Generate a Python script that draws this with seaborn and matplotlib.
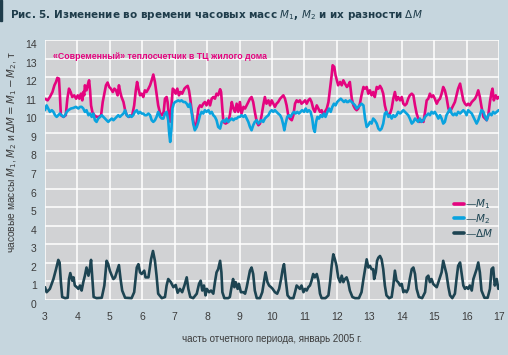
import matplotlib
matplotlib.use("Agg")
import matplotlib.pyplot as plt
import seaborn as sns
import pandas as pd
from matplotlib.patches import Rectangle
from matplotlib.transforms import ScaledTranslation

# часовые массы: день января 2005 г. -> т
m1_day = [3.00, 3.08, 3.15, 3.23, 3.29, 3.34, 3.38, 3.43, 3.46, 3.49, 3.57, 3.64, 3.69, 3.74, 3.79, 3.84, 3.90, 3.96,
          4.01, 4.06, 4.11, 4.15, 4.18, 4.21, 4.23, 4.28, 4.32, 4.36, 4.39, 4.42, 4.46, 4.52, 4.59, 4.66, 4.73, 4.78,
          4.83, 4.88, 4.93, 4.98, 5.03, 5.09, 5.14, 5.19, 5.24, 5.28, 5.32, 5.36, 5.42, 5.47, 5.52, 5.59, 5.69, 5.75,
          5.80, 5.84, 5.88, 5.93, 5.98, 6.03, 6.08, 6.13, 6.19, 6.24, 6.29, 6.34, 6.39, 6.44, 6.49, 6.55, 6.60, 6.66,
          6.70, 6.75, 6.78, 6.81, 6.86, 6.90, 6.94, 6.99, 7.03, 7.08, 7.13, 7.18, 7.23, 7.30, 7.35, 7.40, 7.44, 7.48,
          7.52, 7.57, 7.62,
          7.68, 7.73, 7.78, 7.83, 7.88, 7.93, 7.98, 8.04, 8.09, 8.14, 8.19, 8.24, 8.29, 8.34, 8.40, 8.43, 8.47, 8.50,
          8.57, 8.65, 8.70, 8.76, 8.81, 8.86, 8.91, 8.96, 9.01, 9.06, 9.12, 9.17, 9.22, 9.27, 9.32, 9.37, 9.42, 9.47,
          9.53, 9.58, 9.63, 9.68, 9.73, 9.78, 9.83, 9.89, 9.94, 9.99, 10.04, 10.09, 10.14, 10.19, 10.25, 10.30, 10.35,
          10.40, 10.45, 10.50, 10.55, 10.61, 10.66, 10.71, 10.76, 10.81, 10.86, 10.91, 10.97, 11.02, 11.07, 11.12,
          11.17, 11.22, 11.27, 11.32, 11.38, 11.43, 11.48, 11.53, 11.58, 11.63, 11.69, 11.74, 11.79, 11.84, 11.87,
          11.92, 11.96, 12.00, 12.04, 12.10, 12.15, 12.20, 12.25, 12.31,
          12.35, 12.40, 12.46, 12.51, 12.56, 12.61, 12.66, 12.71, 12.76, 12.82, 12.87, 12.92, 12.97, 13.02, 13.07,
          13.12, 13.17, 13.23, 13.28, 13.33, 13.38, 13.43, 13.48, 13.53, 13.59, 13.64, 13.69, 13.74, 13.79, 13.84,
          13.89, 13.95, 14.00, 14.05, 14.10, 14.15, 14.20, 14.25, 14.31, 14.36, 14.41, 14.46, 14.51, 14.56, 14.61,
          14.67, 14.72, 14.77, 14.82, 14.87, 14.92, 14.97, 15.02, 15.08, 15.13, 15.18, 15.23, 15.28, 15.33, 15.38,
          15.44, 15.49, 15.54, 15.59, 15.64, 15.69, 15.74, 15.80, 15.85, 15.90, 15.95, 16.00, 16.05, 16.10, 16.16,
          16.21, 16.26, 16.31, 16.36, 16.41, 16.46, 16.52, 16.57, 16.62, 16.67, 16.72, 16.77, 16.80, 16.84, 16.90,
          16.95, 16.99]
m1_val = [10.84, 10.75, 10.93, 11.20, 11.56, 11.74, 11.96, 11.92, 11.02, 9.95, 9.86, 9.95, 10.84, 11.38, 11.20, 10.93,
          11.02, 10.84, 11.02, 10.84, 11.11, 10.75, 11.20, 11.02, 11.56, 11.29, 11.60, 11.83, 11.29, 10.48, 10.13, 9.95,
          9.86, 9.86, 9.95, 10.66, 11.11, 11.56, 11.71, 11.47, 11.38, 11.20, 11.38, 11.29, 11.02, 11.56, 11.20, 10.93,
          10.66, 10.22, 9.95, 9.86, 9.95, 10.48, 11.29, 11.74, 11.38, 11.02, 11.11, 10.93, 11.29, 11.20, 11.38, 11.56,
          11.83, 12.14, 11.74, 11.11, 10.48, 10.04, 9.95, 10.13, 10.84, 10.93, 10.66, 10.13, 9.60, 10.50, 11.38, 11.29,
          11.11, 11.38, 11.02, 11.20, 11.11, 11.38, 11.47, 11.53, 11.29, 10.84, 10.22, 9.68, 9.23,
          9.59, 10.31, 10.48, 10.40, 10.57, 10.66, 10.48, 10.75, 10.48, 10.84, 10.93, 10.84, 11.11, 11.02, 11.35, 11.20,
          10.31, 9.59, 9.50, 9.59, 9.95, 10.66, 10.31, 10.13, 10.57, 10.13, 10.66, 10.04, 10.40, 10.31, 10.48, 10.66,
          10.84, 10.93, 10.66, 10.13, 9.59, 9.41, 9.50, 9.95, 10.48, 10.93, 10.57, 10.75, 10.48, 10.75, 10.57, 10.40,
          10.57, 10.66, 10.84, 10.93, 11.02, 10.84, 10.48, 9.95, 9.77, 9.68, 9.95, 10.57, 10.75, 10.66, 10.75, 10.57,
          10.66, 10.75, 10.57, 10.75, 10.84, 10.66, 10.31, 10.13, 10.48, 10.31, 10.13, 10.22, 9.95, 10.13, 10.31,
          10.66, 11.38, 12.10, 12.64, 12.55, 12.10, 11.83, 11.56, 11.74, 11.56, 11.83, 11.65, 11.47,
          11.56, 11.74, 10.84, 10.48, 10.31, 10.22, 10.31, 10.57, 11.02, 11.47, 11.38, 11.47, 11.11, 11.29, 11.02,
          11.20, 10.93, 11.47, 11.38, 11.53, 11.38, 11.11, 10.48, 10.13, 9.95, 10.04, 10.31, 10.84, 11.20, 10.75,
          10.93, 10.75, 10.93, 10.57, 10.48, 10.57, 10.84, 11.02, 11.11, 11.02, 10.48, 10.04, 9.77, 9.59, 9.68,
          9.59, 10.13, 10.75, 10.84, 11.11, 10.93, 11.02, 10.84, 10.57, 10.75, 10.84, 11.11, 11.47, 11.29, 10.93,
          10.31, 10.13, 10.31, 10.48, 10.66, 11.02, 11.38, 11.65, 11.20, 10.75, 10.57, 10.48, 10.57, 10.48, 10.66,
          10.75, 10.84, 11.02, 11.29, 10.93, 10.40, 9.86, 9.77, 9.68, 9.95, 10.66, 11.20, 11.38, 10.75, 11.02,
          10.84, 10.93]

m2_day = [3.00, 3.05, 3.10, 3.15, 3.21, 3.26, 3.31, 3.36, 3.41, 3.46, 3.51, 3.57, 3.62, 3.67, 3.72, 3.80, 3.87, 3.95,
          4.03, 4.08, 4.13, 4.18, 4.23, 4.28, 4.34, 4.39, 4.44, 4.49, 4.54, 4.59, 4.64, 4.70, 4.75, 4.80, 4.85, 4.90,
          4.95, 5.00, 5.06, 5.11, 5.16, 5.21, 5.26, 5.31, 5.36, 5.42, 5.47, 5.52, 5.57, 5.62, 5.67, 5.72, 5.77, 5.83,
          5.88, 5.93, 5.98, 6.03, 6.08, 6.13, 6.19, 6.24, 6.29, 6.34, 6.39, 6.44, 6.49, 6.55, 6.60, 6.65, 6.70, 6.75,
          6.80, 6.83, 6.86, 6.90, 6.93, 6.97, 7.01, 7.06, 7.11, 7.16, 7.21, 7.27, 7.32, 7.37, 7.42, 7.47, 7.52, 7.57,
          7.62,
          7.68, 7.73, 7.78, 7.83, 7.88, 7.93, 7.98, 8.04, 8.09, 8.14, 8.19, 8.24, 8.29, 8.34, 8.40, 8.45, 8.50, 8.55,
          8.60, 8.65, 8.70, 8.76, 8.81, 8.86, 8.91, 8.96, 9.01, 9.06, 9.12, 9.17, 9.22, 9.27, 9.32, 9.37, 9.42, 9.47,
          9.53, 9.58, 9.63, 9.68, 9.73, 9.78, 9.83, 9.89, 9.94, 9.99, 10.04, 10.09, 10.14, 10.19, 10.25, 10.30, 10.35,
          10.38, 10.42, 10.47, 10.52, 10.57, 10.63, 10.68, 10.73, 10.78, 10.83, 10.88, 10.93, 10.99, 11.04, 11.09,
          11.14, 11.19, 11.24, 11.28, 11.32, 11.36, 11.40, 11.45, 11.50, 11.55, 11.60, 11.65, 11.71, 11.76, 11.81,
          11.86, 11.91, 11.96, 12.01, 12.06, 12.12, 12.17, 12.22, 12.27, 12.31,
          12.35, 12.40, 12.46, 12.51, 12.56, 12.61, 12.66, 12.71, 12.76, 12.82, 12.87, 12.92, 12.97, 13.02, 13.07,
          13.12, 13.17, 13.23, 13.28, 13.33, 13.38, 13.43, 13.48, 13.53, 13.59, 13.64, 13.69, 13.74, 13.79, 13.84,
          13.89, 13.95, 14.00, 14.05, 14.10, 14.15, 14.20, 14.25, 14.31, 14.36, 14.41, 14.46, 14.51, 14.56, 14.61,
          14.67, 14.72, 14.77, 14.82, 14.87, 14.92, 14.97, 15.02, 15.08, 15.13, 15.18, 15.23, 15.28, 15.33, 15.38,
          15.44, 15.49, 15.54, 15.59, 15.64, 15.69, 15.74, 15.80, 15.85, 15.90, 15.95, 16.00, 16.05, 16.10, 16.16,
          16.21, 16.26, 16.31, 16.36, 16.41, 16.46, 16.52, 16.57, 16.62, 16.67, 16.72, 16.77, 16.82, 16.87, 16.93,
          16.99]
m2_val = [10.22, 10.48, 10.31, 10.13, 10.22, 10.13, 9.95, 9.86, 9.95, 10.04, 9.95, 9.86, 9.95, 10.13, 10.22, 10.31,
          10.34, 10.40, 10.31, 10.40, 10.40, 10.31, 10.13, 10.22, 9.95, 10.04, 9.86, 10.04, 9.68, 9.59, 9.77, 9.86,
          9.95, 9.86, 9.77, 9.68, 9.59, 9.68, 9.77, 9.68, 9.77, 9.86, 9.95, 9.86, 9.95, 10.04, 10.22, 9.95, 9.86, 9.95,
          9.86, 9.95, 10.13, 10.22, 10.04, 10.13, 10.04, 10.04, 9.95, 9.95, 10.04, 9.95, 9.68, 9.59, 9.68, 9.86, 10.13,
          9.86, 9.77, 9.77, 10.04, 10.13, 9.68, 8.96, 8.51, 9.23, 10.31, 10.57, 10.66, 10.70, 10.75, 10.70, 10.75,
          10.66, 10.66, 10.57, 10.40, 10.57, 10.13, 9.50, 9.14,
          9.32, 9.59, 9.95, 10.13, 10.04, 10.22, 10.13, 10.22, 10.04, 10.13, 9.95, 9.86, 9.68, 9.32, 9.23, 9.59, 9.68,
          9.59, 9.77, 9.59, 9.68, 9.77, 9.68, 9.77, 9.77, 9.86, 9.86, 9.95, 9.86, 9.95, 9.77, 9.59, 9.32, 9.14, 9.41,
          9.59, 9.68, 9.50, 9.59, 9.68, 9.59, 9.77, 9.86, 9.95, 10.13, 10.22, 10.13, 10.22, 10.13, 10.04, 9.95, 9.77,
          9.41, 9.14, 9.50, 9.86, 9.95, 9.86, 10.04, 10.13, 10.04, 10.13, 10.04, 10.13, 10.22, 10.13, 10.31, 10.13,
          10.22, 10.13, 9.77, 9.23, 9.05, 9.59, 9.86, 9.77, 9.95, 9.86, 10.04, 9.86, 10.13, 10.31, 10.13, 10.40,
          10.57, 10.48, 10.66, 10.75, 10.84, 10.75, 10.66, 10.75, 10.66,
          10.66, 10.75, 10.66, 10.57, 10.48, 10.31, 10.40, 10.48, 10.57, 10.48, 9.77, 9.32, 9.41, 9.59, 9.50, 9.77,
          9.68, 9.50, 9.23, 9.14, 9.23, 9.50, 10.04, 10.13, 9.86, 9.95, 9.77, 9.95, 9.86, 9.95, 10.13, 10.04, 10.13,
          10.22, 10.13, 10.04, 9.95, 9.77, 9.50, 9.59, 9.77, 9.68, 9.59, 9.77, 9.59, 9.68, 9.86, 9.95, 10.04, 9.95,
          10.13, 10.04, 10.13, 9.95, 9.77, 9.95, 9.77, 9.50, 9.59, 9.95, 10.13, 10.31, 10.04, 9.95, 10.04, 9.95,
          10.13, 10.04, 10.13, 10.22, 10.13, 9.95, 10.22, 10.13, 10.04, 9.86, 9.68, 9.50, 9.68, 9.95, 10.22, 10.13,
          9.86, 9.68, 9.95, 10.04, 9.95, 10.13, 10.04, 10.13, 10.22]

dm_day = [3.00, 3.05, 3.15, 3.26, 3.34, 3.41, 3.45, 3.49, 3.53, 3.62, 3.70, 3.74, 3.78, 3.84, 3.88, 3.92, 3.98, 4.03,
          4.08, 4.13, 4.18, 4.23, 4.28, 4.34, 4.38, 4.42, 4.46, 4.50, 4.59, 4.75, 4.83, 4.90, 4.95, 5.00, 5.06, 5.11,
          5.16, 5.21, 5.28, 5.33, 5.38, 5.47, 5.67, 5.75, 5.83, 5.88, 5.93, 5.98, 6.06, 6.10, 6.19, 6.27, 6.33, 6.39,
          6.44, 6.49, 6.60, 6.70, 6.75, 6.80, 6.88, 6.96, 7.03, 7.09, 7.16, 7.23, 7.30, 7.37, 7.42, 7.48, 7.57,
          7.68, 7.75, 7.80, 7.85, 7.90, 7.95, 7.99, 8.06, 8.12, 8.19, 8.24, 8.29, 8.34, 8.40, 8.44, 8.47, 8.53, 8.65,
          8.70, 8.76, 8.80, 8.84, 8.88, 8.94, 8.98, 9.04, 9.12, 9.17, 9.22, 9.27, 9.32, 9.37, 9.42, 9.47, 9.53, 9.63,
          9.70, 9.75, 9.80, 9.86, 9.91, 9.97, 10.02, 10.09, 10.16, 10.22, 10.28, 10.33, 10.37, 10.42, 10.48, 10.55,
          10.66, 10.71, 10.76, 10.81, 10.86, 10.91, 10.97, 11.02, 11.07, 11.12, 11.17, 11.22, 11.27, 11.32, 11.38,
          11.43, 11.48, 11.53, 11.65, 11.74, 11.79, 11.84, 11.89, 11.94, 11.99, 12.04, 12.10, 12.15, 12.20,
          12.25, 12.30, 12.35, 12.40, 12.48, 12.56, 12.68, 12.76, 12.82, 12.87, 12.92, 12.97, 13.02, 13.07, 13.12,
          13.15, 13.20, 13.24, 13.28, 13.33, 13.38, 13.43, 13.48, 13.53, 13.61, 13.69, 13.74, 13.79, 13.84, 13.89,
          13.95, 14.00, 14.05, 14.10, 14.15, 14.20, 14.25, 14.31, 14.36, 14.41, 14.46, 14.53, 14.63, 14.72, 14.77,
          14.82, 14.87, 14.92, 14.97, 15.02, 15.08, 15.13, 15.18, 15.23, 15.28, 15.33, 15.38, 15.44, 15.49, 15.56,
          15.64, 15.69, 15.74, 15.80, 15.85, 15.90, 15.95, 16.00, 16.05, 16.10, 16.16, 16.21, 16.26, 16.31, 16.36,
          16.41, 16.46, 16.55, 16.65, 16.72, 16.77, 16.82, 16.87, 16.93, 16.98]
dm_val = [0.69, 0.42, 0.60, 1.13, 1.66, 2.16, 2.02, 0.96, 0.16, 0.10, 0.12, 1.13, 1.45, 1.04, 1.22, 0.78, 0.69, 0.60,
          0.78, 0.51, 0.96, 1.31, 1.75, 1.31, 1.66, 2.16, 1.13, 0.16, 0.10, 0.12, 0.78, 2.11, 1.93, 1.58, 1.31, 1.13,
          1.22, 1.49, 1.88, 1.13, 0.51, 0.12, 0.10, 0.42, 1.75, 1.93, 1.49, 1.40, 1.58, 1.22, 1.22, 2.19, 2.64, 2.11,
          1.31, 0.34, 0.10, 0.16, 0.78, 1.13, 0.96, 0.69, 0.81, 0.39, 0.60, 0.42, 0.78, 1.22, 0.60, 0.16, 0.10,
          0.34, 0.87, 1.04, 0.51, 0.78, 0.25, 0.60, 0.42, 0.51, 0.34, 0.96, 1.49, 1.66, 2.11, 1.49, 0.42, 0.10, 0.10,
          0.16, 0.78, 1.13, 0.69, 0.96, 0.60, 0.87, 0.42, 0.42, 0.34, 0.69, 1.13, 1.58, 1.75, 1.40, 0.51, 0.10, 0.10,
          0.42, 0.96, 1.49, 0.96, 0.78, 0.69, 0.60, 0.42, 0.34, 0.60, 1.13, 1.66, 1.93, 1.13, 0.25, 0.10,
          0.10, 0.42, 0.78, 0.69, 0.60, 0.78, 0.42, 0.60, 0.51, 0.69, 0.78, 1.04, 1.40, 1.22, 1.40,
          1.04, 0.34, 0.10, 0.10, 0.25, 0.96, 1.84, 2.46, 2.19, 1.84, 1.22, 0.96, 1.31, 0.96,
          1.13, 1.22, 0.96, 0.51, 0.16, 0.10, 0.10, 0.42, 1.13, 1.66, 2.19, 1.75, 1.84, 1.66, 1.66,
          1.13, 1.49, 2.11, 2.28, 2.37, 2.19, 1.66, 0.78, 0.25, 0.10, 0.16, 0.78, 1.58, 1.04, 0.96,
          0.78, 0.87, 0.42, 0.51, 0.42, 0.60, 1.13, 1.66, 1.75, 1.40, 0.60, 0.16, 0.10, 0.42, 1.22,
          1.31, 0.96, 1.13, 0.87, 0.78, 0.69, 0.96, 1.22, 1.49, 2.11, 1.75, 1.40, 0.69, 0.25, 0.10,
          0.34, 1.13, 1.84, 2.02, 1.40, 0.78, 0.60, 0.69, 0.60, 0.78, 0.51, 1.13, 1.40, 1.66, 2.02,
          1.49, 0.51, 0.12, 0.12, 0.60, 1.66, 1.75, 0.78, 1.13, 0.60]

x_ticks = list(range(3, 18))
y_ticks = list(range(0, 15))

df = pd.concat([
    pd.DataFrame({"day": m1_day, "mass": m1_val, "series": "M1"}),
    pd.DataFrame({"day": m2_day, "mass": m2_val, "series": "M2"}),
    pd.DataFrame({"day": dm_day, "mass": dm_val, "series": "dM"}),
])

BG = "#c6d6de"
TXT = "#3c3c3c"
colors = {"M1": "#e4047f", "M2": "#0aa3df", "dM": "#1d4452"}
labels = {"M1": "—$M_1$", "M2": "—$M_2$", "dM": "—$\\Delta M$"}

sns.set_theme(style="whitegrid", rc={"axes.facecolor": "#d1d2d4", "grid.color": "white",
                                     "grid.linewidth": 1.1, "axes.edgecolor": "white"})
plt.rcParams['font.family'] = ['Liberation Sans', 'DejaVu Sans']

fig = plt.figure(figsize=(5.08, 3.55), dpi=100)
fig.patch.set_facecolor(BG)
ax = fig.add_axes([45 / 508, 55 / 355, 454 / 508, 260 / 355])

for key in ["M1", "M2", "dM"]:
    sns.lineplot(data=df[df["series"] == key], x="day", y="mass", color=colors[key],
                 linewidth=1.9, label=labels[key], sort=False, estimator=None, ax=ax)

ax.set_xlim(3, 17)
ax.set_ylim(0, 14)
ax.set_xticks(x_ticks)
ax.set_yticks(y_ticks)
for s in ax.spines.values():
    s.set_visible(False)
ax.tick_params(length=0, labelsize=7.5, labelcolor=TXT, pad=6)
ax.tick_params(axis="x", pad=9)
off = ScaledTranslation(0, -0.04, fig.dpi_scale_trans)
for lab in ax.get_yticklabels():
    lab.set_transform(lab.get_transform() + off)

ax.set_xlabel("часть отчетного периода, январь 2005 г.", fontsize=7, color=TXT, labelpad=8)
ax.set_ylabel("часовые массы $M_1$, $M_2$ и $\\Delta M = M_1 - M_2$, т", fontsize=7.4, color=TXT)
ax.yaxis.set_label_coords(-0.057, 0.57)

ax.text(0.018, 0.936, "«Современный» теплосчетчик в ТЦ жилого дома", transform=ax.transAxes,
        color="#e4047f", fontsize=6.3, fontweight="bold", va="center", ha="left")

leg = ax.legend(loc="upper left", bbox_to_anchor=(0.89, 0.415), frameon=False, fontsize=7.5,
                handlelength=0.9, handletextpad=0.1, labelspacing=0.08, borderpad=0)
for txt in leg.get_texts():
    txt.set_color("#1d4452")
for h in leg.get_lines():
    h.set_linewidth(2.6)

fig.text(10 / 508, 1 - 15 / 355, "Рис. 5. Изменение во времени часовых масс $M_1$, $M_2$ и их разности $\\Delta M$",
         fontsize=7.5, fontweight="bold", color="#1f3d4b", va="center", ha="left",
         family=["DejaVu Sans"])
fig.patches.append(Rectangle((0, 1 - 21 / 355), 2 / 508, 21 / 355, transform=fig.transFigure,
                             color="#1f3d4b", zorder=5))

fig.savefig("out.png", dpi=100, facecolor=fig.get_facecolor())
